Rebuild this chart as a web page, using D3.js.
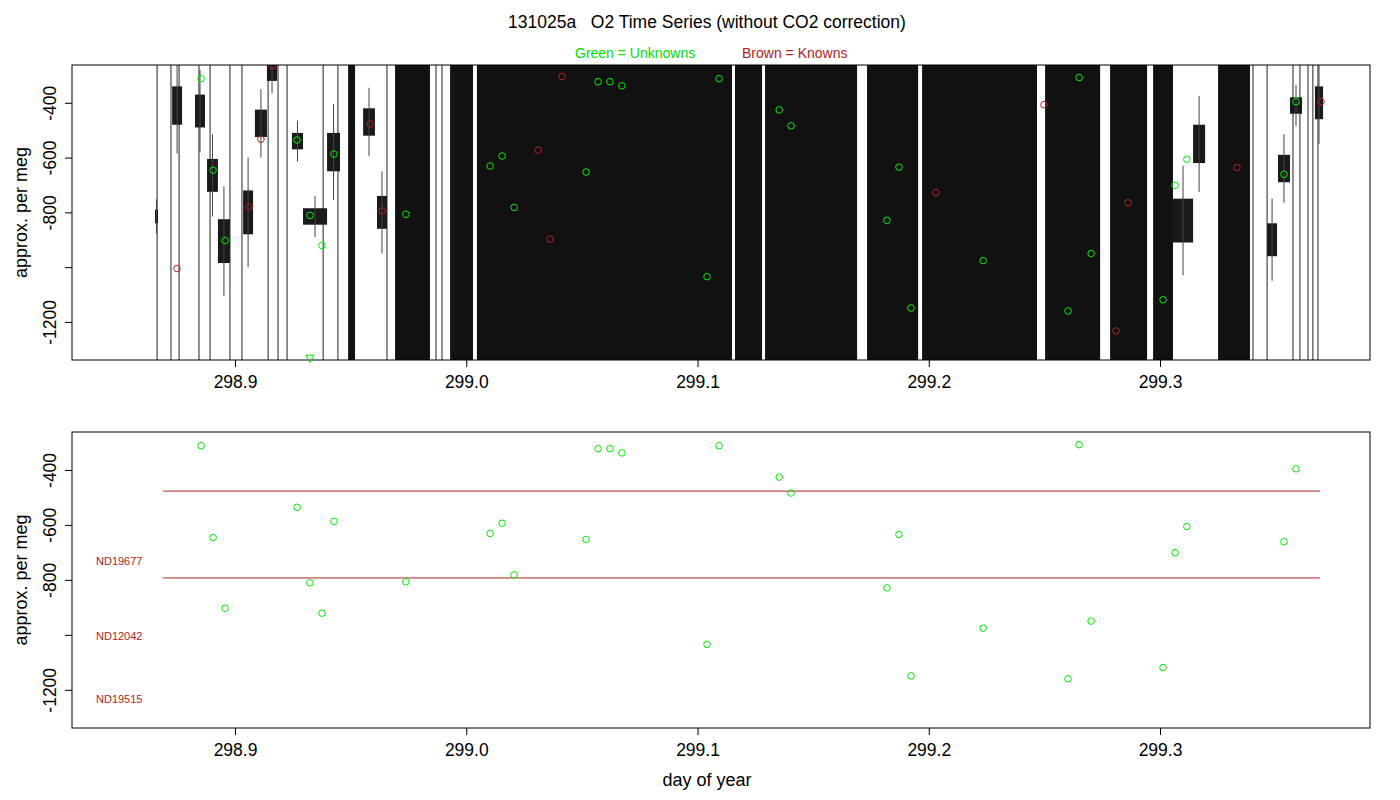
<!DOCTYPE html>
<html><head><meta charset="utf-8">
<script src="https://cdn.jsdelivr.net/npm/d3@7"></script>
<style>body{margin:0;background:#fff}text{font-family:"Liberation Sans",Arial,sans-serif;white-space:pre}</style>
</head><body><div id="chart"></div>
<script>
// unknowns (green): day, per meg
var unkDay = [298.8853,298.8905,298.8957,298.9268,298.9324,298.9376,298.9428,298.9739,299.0103,299.0155,299.0207,299.0518,299.0570,299.0621,299.0673,299.1041,299.1093,299.1353,299.1404,299.1819,299.1871,299.1923,299.2235,299.2602,299.2650,299.2702,299.3013,299.3065,299.3116,299.3536,299.3588];
var unkVal = [-312,-646,-903,-536,-811,-921,-587,-807,-631,-594,-782,-653,-323,-323,-338,-1035,-312,-426,-484,-829,-635,-1149,-976,-1160,-308,-950,-1119,-701,-606,-661,-396];
// knowns (brown), top panel
var knDay = [298.8749,298.9164,298.9112,298.9061,298.9584,298.9636,299.0310,299.0362,299.0414,299.2031,299.2498,299.2810,299.2862,299.3333,299.3696];
var knVal = [-1005,-264,-533,-780,-477,-795,-573,-898,-304,-728,-407,-1233,-765,-636,-396];
// trace plateaus: start, end, centre, spread
var plateaus = [
 [298.8654,298.8667,-815,25],[298.8728,298.8771,-410,70],[298.8827,298.8870,-430,60],
 [298.8879,298.8926,-665,60],[298.8926,298.8978,-905,80],[298.9035,298.9078,-800,80],
 [298.9086,298.9138,-475,50],[298.9138,298.9182,-290,30],[298.9246,298.9294,-540,30],
 [298.9294,298.9398,-815,30],[298.9398,298.9454,-580,70],[298.9554,298.9605,-470,50],
 [298.9614,298.9657,-800,60],[299.3056,299.3143,-830,80],[299.3143,299.3195,-550,70],
 [299.3463,299.3506,-900,60],[299.3510,299.3562,-640,50],[299.3562,299.3614,-410,30],
 [299.3670,299.3705,-400,60]];
// full-height dense bands
var bands = [[298.9489,298.9519],[298.9692,298.9843],[298.9930,299.0029],[299.0046,299.1149],
 [299.1162,299.1279],[299.1292,299.1690],[299.1733,299.1954],[299.1971,299.2468],
 [299.2503,299.2741],[299.2784,299.2944],[299.2970,299.3056],[299.3251,299.3389]];
// isolated spikes
var spikes = [298.8663,298.8723,298.8758,298.8844,298.8892,298.8978,298.9030,298.9143,298.9186,298.9225,298.9381,298.9445,298.9657,298.9869,298.9895,299.3402,299.3463,299.3575,299.3605,299.3640,299.3661,299.3683];
// standards
var stdNames = ["ND19677","ND12042","ND19515"];
var stdLabelVal = [-730,-1006,-1233];
var stdLines = [-477,-793];
var stdStart = 298.8689, stdEnd = 299.3692;
var xTicks = [298.9,299.0,299.1,299.2,299.3];
var yTicks = [-400,-600,-800,-1000,-1200];

var W = 1400, H = 800;
var svg = d3.select("#chart").append("svg").attr("width", W).attr("height", H);
var x = d3.scaleLinear().domain([298.8295, 299.3908]).range([72, 1370]);

svg.append("text").attr("x", 707).attr("y", 28).attr("text-anchor","middle").style("font-size","17.5px")
  .text("131025a   O2 Time Series (without CO2 correction)");
svg.append("text").attr("x", 575).attr("y", 58).style("font-size","14px").attr("fill","#00e000").text("Green = Unknowns");
svg.append("text").attr("x", 742).attr("y", 58).style("font-size","14px").attr("fill","#b22222").text("Brown = Knowns");

function panel(top, bottom) {
  var y = d3.scaleLinear().domain([-1339, -262]).range([bottom, top]);
  var g = svg.append("g");
  var ya = g.append("g").attr("transform","translate(72,0)")
    .call(d3.axisLeft(y).tickValues(yTicks).tickSize(7).tickFormat(function(d){return d==-1000?"":d;}));
  ya.select(".domain").remove();
  ya.selectAll("text").attr("transform","rotate(-90)").attr("x",0).attr("y",-16).attr("dy",0)
    .attr("text-anchor","middle").style("font-size","17.5px").attr("fill","#000");
  var xa = g.append("g").attr("transform","translate(0," + bottom + ")")
    .call(d3.axisBottom(x).tickValues(xTicks).tickSize(7).tickFormat(d3.format(".1f")));
  xa.select(".domain").remove();
  xa.selectAll("text").style("font-size","17.5px").attr("dy","1.05em");
  svg.append("text").attr("transform","translate(27," + ((top+bottom)/2) + ") rotate(-90)")
    .attr("text-anchor","middle").style("font-size","18px").text("approx. per meg");
  return {g: g, y: y};
}

var p1 = panel(65, 360);
svg.append("clipPath").attr("id","c1").append("rect").attr("x",72).attr("y",65).attr("width",1298).attr("height",295);
var t = svg.append("g").attr("clip-path","url(#c1)");
t.selectAll(".band").data(bands).enter().append("rect")
  .attr("x", function(d){return x(d[0]);}).attr("width", function(d){return x(d[1]) - x(d[0]);})
  .attr("y", 65).attr("height", 295).attr("fill","#111");
t.selectAll(".spk").data(spikes).enter().append("line")
  .attr("x1", function(d){return x(d);}).attr("x2", function(d){return x(d);})
  .attr("y1", 65).attr("y2", 360).attr("stroke","#222").attr("stroke-width",1);
t.selectAll(".pl").data(plateaus).enter().append("rect")
  .attr("x", function(d){return x(d[0]);}).attr("width", function(d){return x(d[1]) - x(d[0]);})
  .attr("y", function(d){return p1.y(d[2] + d[3]);})
  .attr("height", function(d){return p1.y(d[2] - d[3]) - p1.y(d[2] + d[3]);}).attr("fill","#1a1a1a");
t.selectAll(".plw").data(plateaus).enter().append("line")
  .attr("x1", function(d){return (x(d[0]) + x(d[1]))/2;}).attr("x2", function(d){return (x(d[0]) + x(d[1]))/2;})
  .attr("y1", function(d){return p1.y(d[2] + 2.5*d[3]);}).attr("y2", function(d){return p1.y(d[2] - 2.5*d[3]);})
  .attr("stroke","#444");
svg.append("rect").attr("x",72).attr("y",65).attr("width",1298).attr("height",295).attr("fill","none").attr("stroke","#000");
t.selectAll(".kn").data(knDay).enter().append("circle")
  .attr("cx", function(d){return x(d);}).attr("cy", function(d,i){return p1.y(knVal[i]);})
  .attr("r",3.3).attr("fill","none").attr("stroke","#b22222");
t.selectAll(".u1").data(unkDay).enter().append("circle")
  .attr("cx", function(d){return x(d);}).attr("cy", function(d,i){return p1.y(unkVal[i]);})
  .attr("r",3.3).attr("fill","none").attr("stroke","#00ee00");
svg.append("path").attr("d", d3.symbol().type(d3.symbolTriangle).size(30))
  .attr("transform","translate(" + x(298.9324) + "," + (p1.y(-1330)) + ") rotate(180)")
  .attr("fill","none").attr("stroke","#00ee00");

var p2 = panel(432, 728);
svg.append("rect").attr("x",72).attr("y",432).attr("width",1298).attr("height",296).attr("fill","none").attr("stroke","#000");
svg.selectAll(".sl").data(stdLines).enter().append("line")
  .attr("x1", x(stdStart)).attr("x2", x(stdEnd))
  .attr("y1", function(d){return p2.y(d);}).attr("y2", function(d){return p2.y(d);})
  .attr("stroke","#b22222");
svg.selectAll(".sn").data(stdNames).enter().append("text")
  .attr("x", 96).attr("y", function(d,i){return p2.y(stdLabelVal[i]) + 4;})
  .style("font-size","11px").attr("fill","#b22222").text(function(d){return d;});
svg.selectAll(".u2").data(unkDay).enter().append("circle")
  .attr("cx", function(d){return x(d);}).attr("cy", function(d,i){return p2.y(unkVal[i]);})
  .attr("r",3.3).attr("fill","none").attr("stroke","#00ee00");
svg.append("text").attr("x", 707).attr("y", 786).attr("text-anchor","middle").style("font-size","18px").text("day of year");
</script></body></html>
